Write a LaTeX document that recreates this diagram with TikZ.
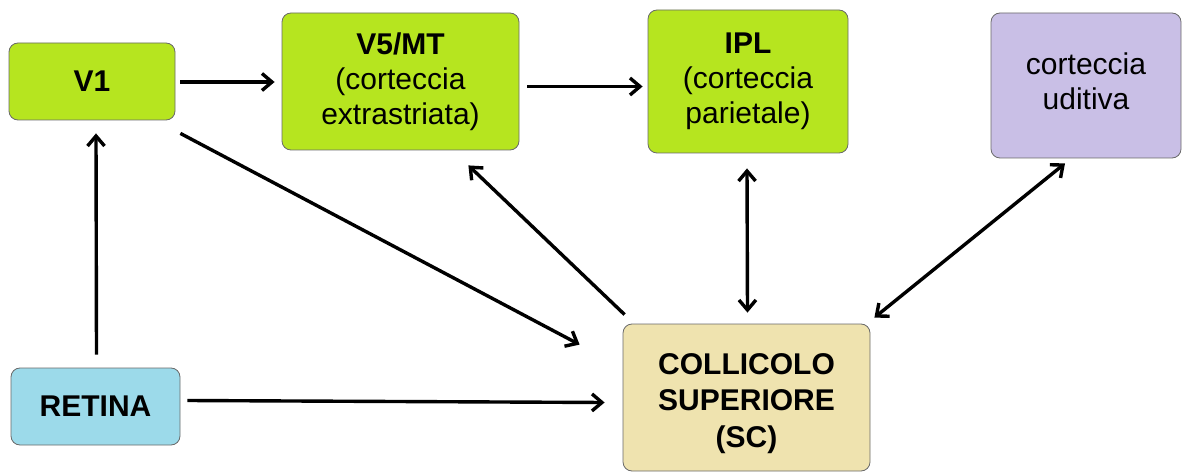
\documentclass[tikz,border=0pt]{standalone}
\usepackage{fontspec}
\setmainfont{Liberation Sans}
\usetikzlibrary{arrows.meta,calc}
\definecolor{lime}{RGB}{182,229,31}
\definecolor{sky}{RGB}{156,218,234}
\definecolor{beige}{RGB}{239,227,175}
\definecolor{lav}{RGB}{201,191,230}
\definecolor{edge}{RGB}{105,105,105}
\tikzset{
  box/.style={draw=edge, line width=0.8pt, rounded corners=9pt, align=center,
    inner sep=0pt, font=\fontsize{30}{35}\selectfont},
  conn/.style={line width=3.4pt, -{Straight Barb[length=10pt,width=17pt]}},
  both/.style={line width=3.4pt, {Straight Barb[length=10pt,width=17pt]}-{Straight Barb[length=10pt,width=17pt]}}
}
\begin{document}
\begin{tikzpicture}[x=1pt,y=-1pt]
\useasboundingbox (0,0) rectangle (1183,473);
\node[box, fill=lime, minimum width=166pt, minimum height=77pt] (v1) at (92,81.5) {\textbf{V1}};
\node[box, fill=sky, minimum width=169pt, minimum height=77pt] (ret) at (95.5,406.5) {\textbf{RETINA}};
\node[box, fill=lime, minimum width=237pt, minimum height=137pt] (v5) at (400.5,81.5) {\textbf{V5/MT}\\(corteccia\\extrastriata)};
\node[box, fill=lime, minimum width=200pt, minimum height=143pt] (ipl) at (748,81.5) {\textbf{IPL}\\(corteccia\\parietale)};
\node[box, fill=lav, minimum width=190pt, minimum height=145pt] (aud) at (1086,85.5) {corteccia\\uditiva\\[-27pt]};
\node[box, fill=beige, minimum width=247pt, minimum height=147pt, font=\fontsize{30}{36.5}\selectfont] (sc) at (746.5,397.5) {\\[-4pt]\textbf{COLLICOLO}\\\textbf{SUPERIORE}\\\textbf{(SC)}};
\draw[conn] ($(v1.east)+(5,0.5)$) -- ($(v5.west)+(-7,0.5)$);
\draw[conn] ($(v5.east)+(8,5)$) -- ($(ipl.west)+(-5,5)$);
\draw[conn] ($(ret.north)+(1,-13)$) -- ($(v1.south)+(4,13)$);
\draw[conn] ($(v1.south east)+(5,13)$) -- ($(sc.north west)+(-43,21)$);
\draw[conn] ($(ret.east)+(7,-6)$) -- ($(sc.west)+(-18,5)$);
\draw[conn] ($(sc.north west)+(2,-9)$) -- ($(v5.south east)+(-51,15)$);
\draw[both] ($(ipl.south)+(-1,15)$) -- ($(sc.north)+(1,-11)$);
\draw[both] ($(aud.south)+(-21,5)$) -- ($(sc.north east)+(4,-6)$);
\end{tikzpicture}
\end{document}
